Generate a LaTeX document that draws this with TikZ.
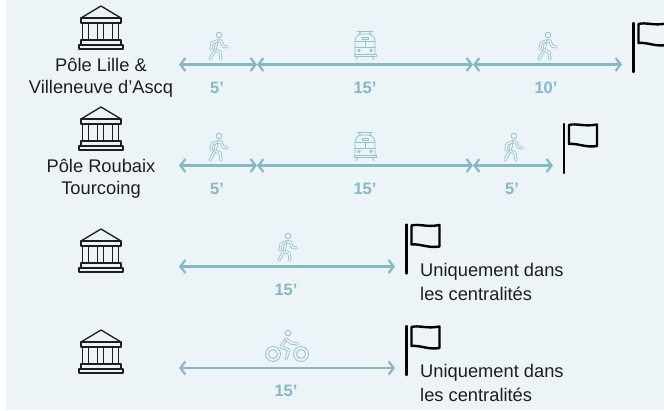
\documentclass[tikz,border=0pt]{standalone}
\usepackage{fontspec}
\setmainfont{Liberation Sans}
\usetikzlibrary{arrows.meta}
\definecolor{fond}{HTML}{ECF4F7}
\definecolor{sarcelle}{HTML}{84B9C5}
\definecolor{encre}{HTML}{1E1E1E}
\tikzset{
  link/.style={sarcelle,line width=2.2pt,{Straight Barb[length=5pt,width=13pt,line width=2.2pt]}-{Straight Barb[length=5pt,width=13pt,line width=2.2pt]}},
  icon/.style={sarcelle!85!fond,line width=0.8pt,line cap=round,line join=round},
  limb/.style={icon,double=fond,double distance=1.5pt},
  duree/.style={text=sarcelle,font=\fontsize{16.5}{18}\selectfont\bfseries,inner sep=0pt},
  legende/.style={text=encre,font=\fontsize{18.3}{22}\selectfont,inner sep=0pt,align=center},
  note/.style={text=encre,font=\fontsize{18.3}{22}\selectfont,inner sep=0pt,anchor=west}
}
% #1 = centre x, #2 = top y
\newcommand{\temple}[2]{
  \begin{scope}[shift={(#1,#2)},encre,line width=1.3pt,line join=round]
    \draw (-20,12) -- (0,0) -- (20,12);
    \draw (-20,12) -- (20,12) -- (20,17) -- (-20,17) -- cycle;
    \foreach \c in {-15.5,-0.5,14.5} {
      \draw (\c-2.7,17) -- (\c-2.7,34);
      \draw (\c+2.7,17) -- (\c+2.7,34);
    }
    \draw (-20,34) -- (20,34) -- (20,39) -- (-20,39) -- cycle;
    \draw (-22,39) -- (22,39) -- (22,43) -- (-22,43) -- cycle;
  \end{scope}
}
% #1 = pole x, #2 = top y
\newcommand{\flag}[2]{
  \begin{scope}[shift={(#1,#2)},black,line cap=round,line join=round]
    \draw[line width=2.4pt] (0,0) -- (0,49);
    \draw[line width=2.4pt] (5,1) .. controls (13,-1) and (20,3) .. (33,0.5)
      -- (33,22) .. controls (22,24) and (14,19) .. (5,20) -- cycle;
  \end{scope}
}
% #1 = centre x, #2 = top y
\newcommand{\walker}[2]{
  \begin{scope}[shift={(#1,#2)}]
    \draw[icon] (1,3) circle (2.8);
    \draw[limb] (-1,9) -- (-3,18) -- (-8,27);
    \draw[limb] (-3,18) -- (2,20) -- (3,27);
    \draw[limb] (-1,9) -- (3,9) -- (5,14) -- (9,15);
    \draw[limb] (-1,9) -- (-6,11) -- (-7,17);
  \end{scope}
}
\newcommand{\tram}[2]{
  \begin{scope}[shift={(#1,#2)},icon]
    \draw (-8,0) -- (8,0);
    \draw (-4,0) -- (-6,3) (4,0) -- (6,3);
    \draw[rounded corners=3pt] (-10,23) -- (-10,7) -- (-6,3) -- (6,3) -- (10,7) -- (10,23);
    \draw (-3,6) rectangle (3,8);
    \draw (-10,10) -- (10,10);
    \draw (-10,16) -- (10,16);
    \draw (0,10) -- (0,16);
    \draw (-6,19.5) circle (1.3) (6,19.5) circle (1.3);
    \draw (-11,23) rectangle (11,25);
    \draw (-7,25) -- (-9,29) (7,25) -- (9,29);
  \end{scope}
}
\newcommand{\bike}[2]{
  \begin{scope}[shift={(#1,#2)},icon]
    \draw (-14,24) circle (7.5) (-14,24) circle (4.5);
    \draw (14,24) circle (7.5) (14,24) circle (4.5);
    \draw (1,3) circle (2.8);
    \draw[limb] (-1,9) -- (-6,17) -- (2,20) -- (-1,29);
    \draw[limb] (-1,9) -- (4,13) -- (11,14);
  \end{scope}
}

\begin{document}
\begin{tikzpicture}[x=1pt,y=-1pt]
\useasboundingbox (0,0) rectangle (664,410);
\clip (0,0) rectangle (664,410);
\fill[fond] (6,0) rectangle (664,410);

  % rangee 1
  \temple{101}{6}
  \node[legende] (lille) at (101,64.5) {Pôle Lille \&};
  \node[legende] (ascq) at (101,88.5) {Villeneuve d’Ascq};
  \coordinate (a1) at (179,64.5);
  \coordinate (b1) at (257,64.5);
  \coordinate (c1) at (473,64.5);
  \coordinate (d1) at (622,64.5);
  \draw[link] (a1) -- (b1);
  \draw[link] (b1) -- (c1);
  \draw[link] (c1) -- (d1);
  \walker{218}{32}
  \tram{365}{31}
  \walker{547}{32}
  \node[duree] (t1a) at (217,88) {5’};
  \node[duree] (t1b) at (365,88) {15’};
  \node[duree] (t1c) at (546,88) {10’};
  \flag{633.5}{23}

  % rangee 2
  \temple{101}{107}
  \node[legende] (roubaix) at (101,165.5) {Pôle Roubaix};
  \node[legende] (tourcoing) at (101,189.5) {Tourcoing};
  \coordinate (a2) at (179,165.5);
  \coordinate (b2) at (257,165.5);
  \coordinate (c2) at (473,165.5);
  \coordinate (d2) at (553,165.5);
  \draw[link] (a2) -- (b2);
  \draw[link] (b2) -- (c2);
  \draw[link] (c2) -- (d2);
  \walker{218}{133}
  \tram{365}{132}
  \walker{513}{133}
  \node[duree] (t2a) at (217,189) {5’};
  \node[duree] (t2b) at (365,189) {15’};
  \node[duree] (t2c) at (512,189) {5’};
  \flag{564}{124}

  % rangee 3
  \temple{101}{229}
  \coordinate (a3) at (179,266.5);
  \coordinate (b3) at (395,266.5);
  \draw[link] (a3) -- (b3);
  \walker{287}{233}
  \node[duree] (t3) at (286,290) {15’};
  \flag{406.5}{224.5}
  \node[note] (n3a) at (420,272) {Uniquement dans};
  \node[note] (n3b) at (420,293.5) {les centralités};

  % rangee 4
  \temple{101}{330}
  \coordinate (a4) at (179,368);
  \coordinate (b4) at (395,368);
  \draw[link] (a4) -- (b4);
  \bike{287}{330}
  \node[duree] (t4) at (286,391) {15’};
  \flag{406.5}{326}
  \node[note] (n4a) at (420,373) {Uniquement dans};
  \node[note] (n4b) at (420,394.5) {les centralités};

\end{tikzpicture}
\end{document}
